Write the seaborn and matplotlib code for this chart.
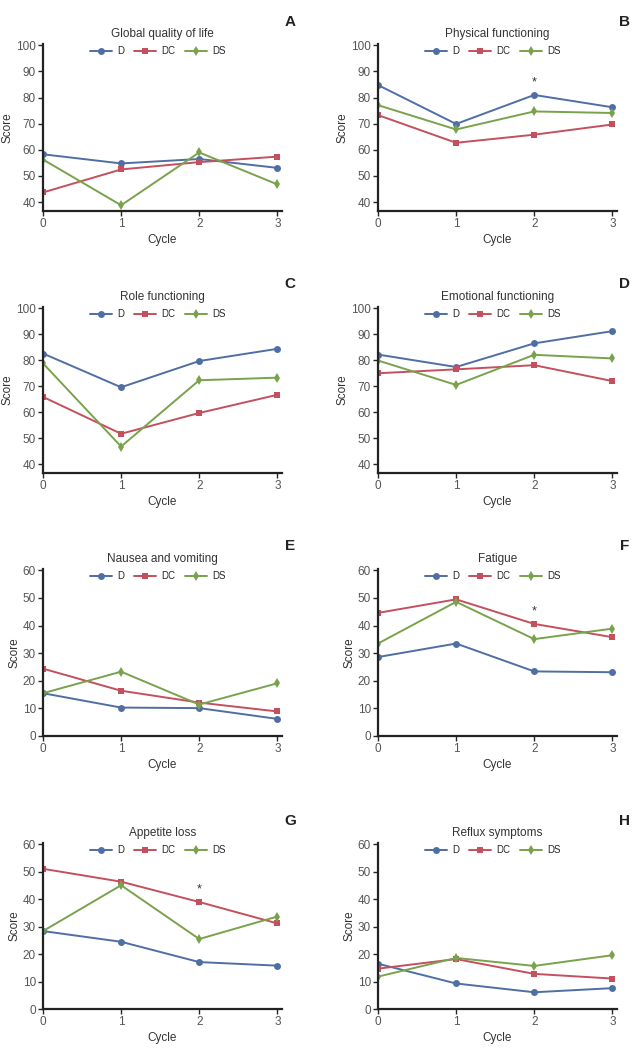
import numpy as np
import pandas as pd
import seaborn as sns
import matplotlib.pyplot as plt

cycles = [0, 1, 2, 3]
groups = ["D", "DC", "DS"]

panel_titles = ["Global quality of life", "Physical functioning", "Role functioning",
                "Emotional functioning", "Nausea and vomiting", "Fatigue",
                "Appetite loss", "Reflux symptoms"]
panel_letters = ["A", "B", "C", "D", "E", "F", "G", "H"]

global_qol = {"D": [58.3, 54.8, 56.5, 53.1], "DC": [43.7, 52.5, 55.3, 57.4], "DS": [56.3, 38.8, 59.0, 46.8]}
physical = {"D": [84.8, 69.9, 81.0, 76.3], "DC": [73.3, 62.7, 65.8, 69.7], "DS": [77.1, 67.8, 74.7, 74.1]}
role = {"D": [82.6, 69.6, 79.7, 84.4], "DC": [65.9, 51.7, 59.7, 66.7], "DS": [78.8, 46.8, 72.3, 73.3]}
emotional = {"D": [82.2, 77.4, 86.5, 91.2], "DC": [75.0, 76.5, 78.1, 72.0], "DS": [79.9, 70.5, 82.1, 80.7]}
nausea = {"D": [15.5, 10.3, 10.1, 6.2], "DC": [24.4, 16.4, 12.1, 8.9], "DS": [15.5, 23.3, 11.4, 19.1]}
fatigue = {"D": [28.6, 33.5, 23.4, 23.1], "DC": [44.6, 49.5, 40.6, 35.8], "DS": [33.5, 48.6, 35.1, 38.9]}
appetite = {"D": [28.4, 24.5, 17.1, 15.8], "DC": [51.1, 46.4, 39.0, 31.2], "DS": [28.4, 45.1, 25.5, 33.7]}
reflux = {"D": [16.5, 9.3, 6.1, 7.6], "DC": [14.7, 18.2, 12.8, 11.1], "DS": [11.8, 18.6, 15.7, 19.6]}

panel_data = [global_qol, physical, role, emotional, nausea, fatigue, appetite, reflux]
# significance star (panel index -> cycle)
stars = {1: 2, 5: 2, 6: 2}

palette = {"D": "#4f6ea3", "DC": "#c4505e", "DS": "#79a24c"}
markers = {"D": "o", "DC": "s", "DS": "d"}

sns.set_style("ticks")
plt.rcParams["font.family"] = ["Liberation Sans", "DejaVu Sans"]

fig = plt.figure(figsize=(6.35, 10.49), dpi=100)

lefts = [43 / 635, 378 / 635]
width = 239 / 635
row_top = [44, 307, 569, 843]
row_bot = [211, 473, 736, 1009]
letter_x = [290, 625]
letter_y = [22, 284, 546, 821]

for i, (title, letter, data) in enumerate(zip(panel_titles, panel_letters, panel_data)):
    r, c = divmod(i, 2)
    ax = fig.add_axes([lefts[c], 1 - row_bot[r] / 1049, width, (row_bot[r] - row_top[r]) / 1049])
    df = pd.DataFrame([{"Cycle": x, "Score": v, "Group": g}
                       for g in groups for x, v in zip(cycles, data[g])])
    sns.lineplot(data=df, x="Cycle", y="Score", hue="Group", style="Group",
                 markers=markers, dashes=False, palette=palette, ax=ax,
                 markersize=5, markeredgewidth=0, linewidth=1.4)
    if r < 2:
        ax.set_ylim(36.6, 100.5)
        ax.set_yticks([40, 50, 60, 70, 80, 90, 100])
    else:
        ax.set_ylim(0, 60.5)
        ax.set_yticks([0, 10, 20, 30, 40, 50, 60])
    ax.set_xlim(0, 3.06)
    ax.set_xticks(cycles)
    ax.set_xlabel("Cycle", fontsize=8.5, color="#333333", labelpad=3)
    ax.set_ylabel("Score", fontsize=8.5, color="#333333", labelpad=2)
    ax.set_title(title, fontsize=8.5, color="#333333", pad=5)
    sns.despine(ax=ax)
    for s in ["left", "bottom"]:
        ax.spines[s].set_linewidth(1.6)
        ax.spines[s].set_color("#222222")
    ax.tick_params(axis="both", labelsize=8.5, labelcolor="#555555", length=3.5, width=1, pad=1.5)
    ax.legend(ncol=3, frameon=False, loc="upper center", bbox_to_anchor=(0.48, 1.04),
              fontsize=7, handlelength=2.3, columnspacing=1.0, handletextpad=0.5)
    if i in stars:
        x = stars[i]
        top = max(data[g][x] for g in groups)
        ax.text(x, top + 2.5, "*", ha="center", va="bottom", fontsize=9, color="#333333")
    fig.text(letter_x[c] / 635, 1 - letter_y[r] / 1049, letter,
             fontsize=11, fontweight="bold", ha="center", va="center", color="#222222")

fig.savefig("out.png", dpi=100)
